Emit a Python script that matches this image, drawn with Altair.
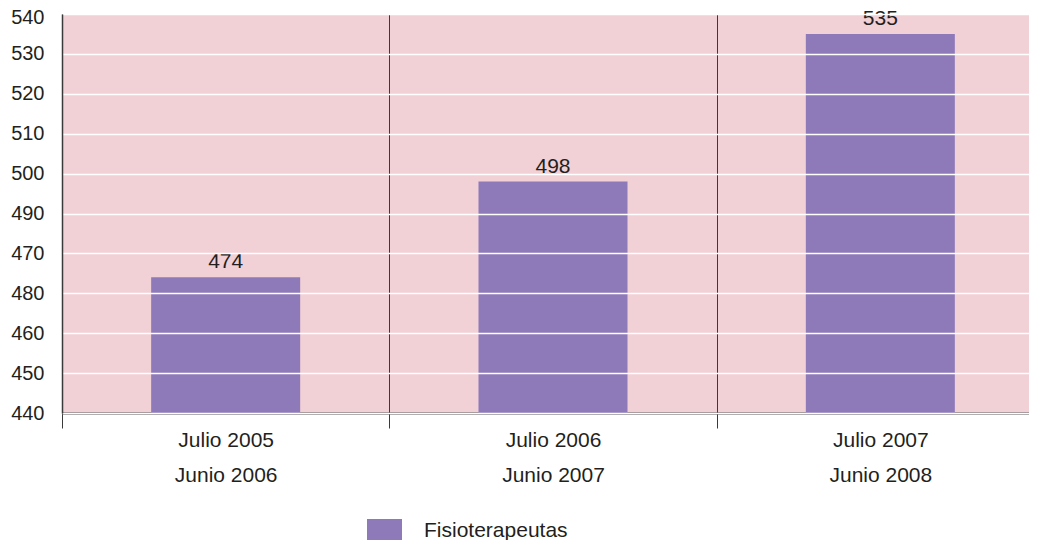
import altair as alt
import pandas as pd

periods_start = ["Julio 2005", "Julio 2006", "Julio 2007"]
periods_end = ["Junio 2006", "Junio 2007", "Junio 2008"]
values = [474, 498, 535]
series_name = "Fisioterapeutas"
y_tick_values = [440, 450, 460, 470, 480, 490, 500, 510, 520, 530, 540]
y_tick_labels = ["440", "450", "460", "480", "470", "490", "500", "510", "520", "530", "540"]

df = pd.DataFrame({
    "period": [f"{a}|{b}" for a, b in zip(periods_start, periods_end)],
    "value": values,
    "series": [series_name] * len(values),
})

vals_arr = "[" + ",".join(str(v) for v in y_tick_values) + "]"
labs_arr = "[" + ",".join(f"'{l}'" for l in y_tick_labels) + "]"
y_label_expr = f"{labs_arr}[indexof({vals_arr}, datum.value)]"

FONT = "Liberation Sans"
TXT = "#231f20"
LINE = "#3a3a3a"
PINK = "#f1d0d6"
PURPLE = "#8e7ab8"

x_enc = alt.X(
    "period:N",
    sort=None,
    scale=alt.Scale(paddingInner=0, paddingOuter=0, range=[0, 982]),
    axis=alt.Axis(
        title=None,
        labelExpr="split(datum.label, '|')",
        labelAngle=0,
        labelFont=FONT,
        labelFontSize=21,
        labelColor=TXT,
        labelLineHeight=35,
        labelPadding=1,
        tickBand="extent",
        tickSize=15,
        tickColor=LINE,
        tickWidth=1,
        grid=True,
        gridColor=LINE,
        gridWidth=1,
        domainColor="#2b2b2b",
        domainWidth=2,
    ),
)
y_enc = alt.Y(
    "value:Q",
    scale=alt.Scale(domain=[y_tick_values[0], y_tick_values[-1]], nice=False, zero=False),
    axis=alt.Axis(
        title=None,
        values=y_tick_values,
        labelExpr=y_label_expr,
        labelOffset={"condition": {"test": f"datum.value == {y_tick_values[-1]}", "value": 3}, "value": 0},
        ticks=False,
        labelPadding=18,
        labelFont=FONT,
        labelFontSize=20,
        labelColor=TXT,
        grid=True,
        gridColor="white",
        gridWidth=1.5,
        domainColor=LINE,
        domainWidth=1.5,
        zindex=1,
    ),
)

base = alt.Chart(df)
bars = base.mark_bar(size=149, clip=True).encode(
    x=x_enc,
    y=y_enc,
    color=alt.Color(
        "series:N",
        scale=alt.Scale(domain=[series_name], range=[PURPLE]),
        legend=alt.Legend(
            title=None,
            orient="none",
            legendX=305,
            legendY=505,
            symbolType="square",
            symbolSize=1225,
            symbolStrokeWidth=0,
            symbolOpacity=1,
            labelFont=FONT,
            labelFontSize=21,
            labelColor=TXT,
            labelOffset=22,
            labelBaseline="alphabetic",
            padding=0,
        ),
    ),
)
text = base.mark_text(dy=-9, baseline="alphabetic", fontSize=21, color=TXT, font=FONT).encode(
    x=x_enc, y=y_enc, text="value:Q"
)

chart = (
    alt.layer(bars, text)
    .properties(
        width=967,
        height=399,
        autosize=alt.AutoSizeParams(type="none"),
        padding={"left": 54, "top": 6, "right": 0, "bottom": 127},
    )
    .configure(font=FONT)
    .configure_view(fill=PINK, strokeWidth=0)
)

chart.save("out.html", embed_options={"renderer": "svg", "actions": False})
